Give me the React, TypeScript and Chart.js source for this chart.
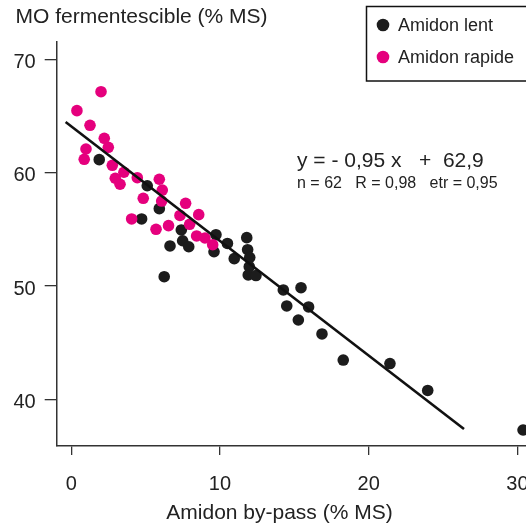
import React, { useEffect, useRef } from "react";
import { Chart, registerables } from "chart.js";

Chart.register(...registerables);

// Amidon rapide (magenta)
const rapideX = [0.38, 2.0, 1.26, 2.22, 2.49, 0.99, 0.87, 2.76, 3.54, 2.96, 3.28, 4.44, 5.92, 6.12, 6.08, 4.84, 7.69, 7.31, 8.57, 4.06, 5.7, 6.54, 7.96, 8.43, 8.99, 9.51];
const rapideY = [65.47, 67.14, 64.18, 63.03, 62.24, 62.09, 61.18, 60.65, 60.04, 59.51, 58.98, 59.56, 59.42, 58.47, 57.5, 57.74, 57.3, 56.23, 56.3, 55.92, 55.01, 55.33, 55.45, 54.42, 54.24, 53.65];

// Amidon lent (black)
const lentX = [1.88, 5.11, 5.92, 4.73, 7.4, 7.49, 7.9, 6.64, 9.73, 9.6, 10.5, 11.8, 11.86, 10.96, 12.0, 11.97, 11.9, 12.42, 6.25, 14.26, 15.45, 14.49, 15.96, 15.27, 16.86, 18.29, 21.43, 23.97, 30.38];
const lentY = [61.15, 58.85, 56.83, 55.92, 54.95, 54.0, 53.47, 53.54, 54.53, 53.03, 53.76, 54.27, 53.21, 52.42, 52.52, 51.71, 50.98, 50.93, 50.83, 49.66, 49.86, 48.25, 48.16, 47.01, 45.78, 43.48, 43.17, 40.8, 37.31];

// Regression line end points
const lineX = [-0.38, 26.41];
const lineY = [64.47, 37.4];

const xTicks = [0, 10, 20, 30];
const yTicks = [40, 50, 60, 70];

const seriesNames = ["Amidon lent", "Amidon rapide"];
const yTitle = "MO fermentescible (% MS)";
const xTitle = "Amidon by-pass (% MS)";
const eqLine1 = "y = - 0,95 x   +  62,9";
const eqLine2 = "n = 62   R = 0,98   etr = 0,95";

const PINK = "#e5007d";
const BLACK = "#1c1c1c";
const TEXT = "#222222";
const AXIS = "#333333";
const FONT = "Liberation Sans, Arial, sans-serif";

const toPts = (xs: number[], ys: number[]) => xs.map((x, i) => ({ x, y: ys[i] }));

const annotations = {
  id: "annotations",
  afterDraw(chart: any) {
    const ctx = chart.ctx;
    ctx.save();
    ctx.fillStyle = TEXT;
    ctx.textBaseline = "middle";
    ctx.font = `21px ${FONT}`;
    ctx.textAlign = "left";
    ctx.fillText(yTitle, 15.5, 17);
    ctx.textAlign = "center";
    ctx.fillText(xTitle, 279.5, 513);

    // legend box
    ctx.strokeStyle = "#111";
    ctx.lineWidth = 1.5;
    ctx.strokeRect(366.5, 6.5, 180, 74.5);
    ctx.font = `18px ${FONT}`;
    ctx.textAlign = "left";
    const items = [
      { c: BLACK, y: 25 },
      { c: PINK, y: 57 },
    ];
    items.forEach((it, i) => {
      ctx.fillStyle = it.c;
      ctx.beginPath();
      ctx.arc(383, it.y, 6.3, 0, Math.PI * 2);
      ctx.fill();
      ctx.fillStyle = TEXT;
      ctx.fillText(seriesNames[i], 398, it.y + 1);
    });

    // equation
    ctx.fillStyle = TEXT;
    ctx.font = `21px ${FONT}`;
    ctx.fillText(eqLine1, 297, 161);
    ctx.font = `16px ${FONT}`;
    ctx.fillText(eqLine2, 297, 184);
    ctx.restore();
  },
};

export default function App() {
  const ref = useRef<HTMLCanvasElement | null>(null);
  useEffect(() => {
    if (!ref.current) return;
    const chart = new Chart(ref.current, {
      type: "scatter",
      data: {
        datasets: [
          {
            type: "line",
            label: "fit",
            data: toPts(lineX, lineY),
            borderColor: "#111",
            borderWidth: 2.6,
            pointRadius: 0,
            showLine: true,
            fill: false,
            order: 0,
          } as any,
          {
            label: seriesNames[1],
            data: toPts(rapideX, rapideY),
            backgroundColor: PINK,
            pointRadius: 5.8,
            pointBorderWidth: 0,
            borderWidth: 0,
            order: 1,
          },
          {
            label: seriesNames[0],
            data: toPts(lentX, lentY),
            backgroundColor: BLACK,
            pointRadius: 5.8,
            pointBorderWidth: 0,
            borderWidth: 0,
            order: 2,
          },
        ],
      },
      options: {
        animation: false,
        responsive: true,
        maintainAspectRatio: false,
        layout: { autoPadding: false, padding: { top: 41.7, left: 0, right: 0, bottom: 0 } },
        plugins: {
          legend: { display: false },
          tooltip: { enabled: false },
          title: { display: false },
        },
        scales: {
          x: {
            type: "linear",
            min: -0.98,
            max: 30.58,
            afterBuildTicks: (s: any) => {
              s.ticks = xTicks.map((v) => ({ value: v }));
            },
            afterFit: (s: any) => {
              s.height = 80;
              s.paddingLeft = 0;
              s.paddingRight = 0;
            },
            grid: {
              display: true,
              drawOnChartArea: false,
              drawTicks: true,
              tickLength: 9,
              color: AXIS,
              lineWidth: 1.3,
            },
            border: { display: true, color: AXIS, width: 1.5 },
            ticks: {
              padding: 17,
              color: TEXT,
              font: { size: 20, family: FONT },
              maxRotation: 0,
            },
          },
          y: {
            type: "linear",
            min: 35.9,
            max: 71.55,
            afterBuildTicks: (s: any) => {
              s.ticks = yTicks.map((v) => ({ value: v }));
            },
            afterFit: (s: any) => {
              s.width = 56.7;
              s.paddingTop = 0;
              s.paddingBottom = 0;
            },
            grid: {
              display: true,
              drawOnChartArea: false,
              drawTicks: true,
              tickLength: 12,
              color: AXIS,
              lineWidth: 1.3,
            },
            border: { display: true, color: AXIS, width: 1.5 },
            ticks: {
              padding: 9,
              labelOffset: 3,
              color: TEXT,
              font: { size: 20, family: FONT },
            },
          },
        },
      },
      plugins: [annotations],
    } as any);
    return () => chart.destroy();
  }, []);
  return (
    <div style={{ position: "fixed", left: 0, top: 0, width: 526, height: 526, background: "#fff" }}>
      <canvas ref={ref} />
    </div>
  );
}
